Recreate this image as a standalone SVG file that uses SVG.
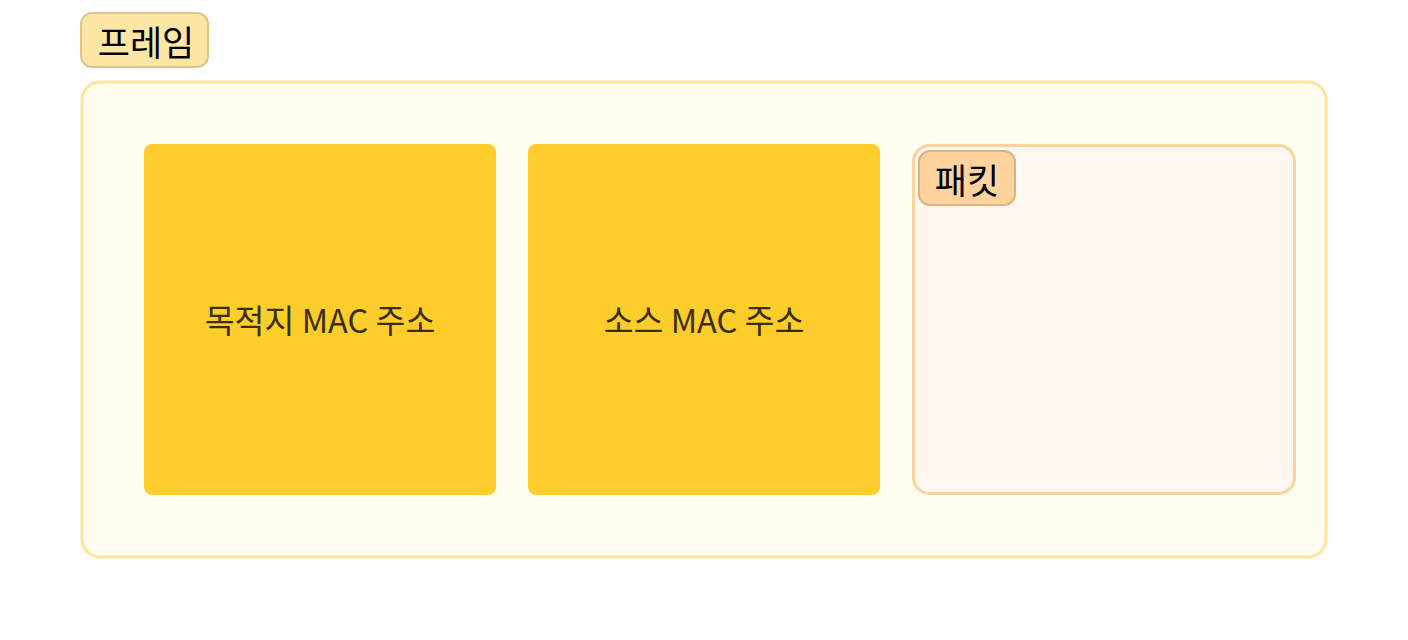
<svg xmlns="http://www.w3.org/2000/svg" width="1408" height="640" viewBox="0 0 1408 640">
<style>
.lbl{font-family:"Noto Sans CJK KR","Noto Sans",sans-serif;font-size:35px;fill:#000;text-anchor:middle;dominant-baseline:central}
.btxt{font-family:"Noto Sans CJK KR","Noto Sans",sans-serif;font-size:32.5px;fill:#3b2f0a;text-anchor:middle;dominant-baseline:central}
.box{fill:#fdcd2b}
</style>
<rect width="1408" height="640" fill="#ffffff"/>
<g id="frame">
<rect x="82" y="82" width="1244" height="475" rx="18" fill="#fffcf0" stroke="#fde59b" stroke-width="3"/>
<rect x="81" y="13" width="127" height="54" rx="11" fill="#fee7a5" stroke="#dcc690" stroke-width="2"/>
<text class="lbl" x="146" y="40">프레임</text>
</g>
<g id="dest">
<rect class="box" x="144" y="144" width="352" height="351" rx="8"/>
<text class="btxt" x="320" y="318">목적지 MAC 주소</text>
</g>
<g id="src">
<rect class="box" x="528" y="144" width="352" height="351" rx="8"/>
<text class="btxt" x="704" y="318">소스 MAC 주소</text>
</g>
<g id="packet">
<rect x="913.5" y="145.5" width="381" height="348" rx="16" fill="#fff7f0" stroke="#fad49b" stroke-width="3"/>
<rect x="919" y="151" width="96" height="54" rx="11" fill="#fed39d" stroke="#dcb283" stroke-width="2"/>
<text class="lbl" x="967" y="178">패킷</text>
</g>
<g id="connectors"></g>
</svg>
